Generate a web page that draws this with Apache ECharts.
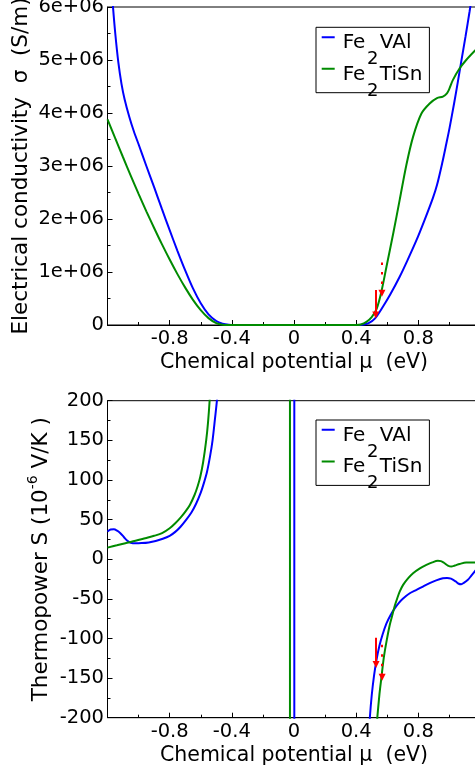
<!DOCTYPE html>
<html><head><meta charset="utf-8">
<script src="https://cdn.jsdelivr.net/npm/echarts@6/dist/echarts.min.js"></script>
<style>html,body{margin:0;padding:0;background:#fff}#c{width:475px;height:775px}</style>
</head><body><div id="c"></div>
<script>
const FONT = 'DejaVu Sans';
const BLUE = '#0000ff', GREEN = '#008b00', RED = '#ff0000';
const names = ['Fe2VAl', 'Fe2TiSn'];
const sigmaTickLabels = ['0','1e+06','2e+06','3e+06','4e+06','5e+06','6e+06'];

// Electrical conductivity sigma (S/m) vs chemical potential (eV)
const muSigmaVAl = [-1.2,-1.18,-1.166,-1.15,-1.13,-1.11,-1.09,-1.06,-1.03,-1.0,-0.95,-0.90,-0.85,-0.80,-0.75,-0.70,-0.65,-0.60,-0.55,-0.50,-0.46,-0.42,-0.38,0.0,0.40,0.44,0.48,0.52,0.573,0.62,0.68,0.73,0.788,0.84,0.894,0.92,0.954,0.98,1.001,1.03,1.055,1.076,1.104,1.13,1.16,1.2];
const sigmaVAl = [7.4e6,6.6e6,6.05e6,5.5e6,4.95e6,4.55e6,4.26e6,3.93e6,3.65e6,3.41e6,3.00e6,2.60e6,2.19e6,1.79e6,1.40e6,1.03e6,0.69e6,0.41e6,0.20e6,0.075e6,0.025e6,0.004e6,0,0,0,0.005e6,0.035e6,0.12e6,0.35e6,0.58e6,0.91e6,1.22e6,1.60e6,1.98e6,2.40e6,2.64e6,3.06e6,3.42e6,3.72e6,4.18e6,4.60e6,4.97e6,5.45e6,5.92e6,6.5e6,7.3e6];
const muSigmaTiSn = [-1.2,-1.15,-1.10,-1.05,-1.0,-0.95,-0.90,-0.85,-0.80,-0.75,-0.70,-0.65,-0.60,-0.55,-0.50,-0.46,-0.42,0.0,0.40,0.43,0.466,0.50,0.531,0.56,0.595,0.64,0.68,0.723,0.766,0.82,0.873,0.92,0.958,0.984,1.0,1.022,1.065,1.108,1.162,1.2];
const sigmaTiSn = [3.88e6,3.52e6,3.165e6,2.815e6,2.475e6,2.145e6,1.83e6,1.525e6,1.235e6,0.96e6,0.705e6,0.475e6,0.28e6,0.13e6,0.035e6,0.005e6,0,0,0,0.01e6,0.06e6,0.15e6,0.30e6,0.60e6,1.10e6,1.75e6,2.36e6,3.02e6,3.55e6,3.99e6,4.18e6,4.28e6,4.31e6,4.37e6,4.46e6,4.62e6,4.84e6,5.00e6,5.17e6,5.28e6];

// Thermopower S (1e-6 V/K) vs chemical potential (eV)
const muSVAl = [-1.2,-1.18,-1.159,-1.138,-1.117,-1.095,-1.074,-1.05,-1.021,-0.98,-0.935,-0.89,-0.849,-0.80,-0.764,-0.73,-0.693,-0.66,-0.63,-0.60,-0.58,-0.56,-0.54,-0.524,-0.508,-0.496,-0.485,-0.46,-0.43,-0.2,0.002,0.002,0.002,0.002,0.3,0.44,0.46,0.475,0.488,0.50,0.515,0.531,0.55,0.57,0.595,0.62,0.648,0.675,0.702,0.745,0.788,0.83,0.873,0.915,0.958,0.985,1.01,1.04,1.06,1.076,1.095,1.119,1.14,1.162,1.2];
const sVAl = [34.8,37.5,37.8,36,32.8,28,23.5,20.8,20.0,20.3,21.2,23,25.5,29.5,34.5,41,50,59,70,84,96,110,130,150,178,200,228,310,480,5000,9000,8000,-8000,-9000,-2000,-420,-315,-241,-200,-172,-147,-127,-109,-95,-81,-71,-62,-55,-49.6,-43,-38.7,-34.5,-30.3,-26.8,-24,-23.6,-24.6,-28,-31,-31.5,-29.5,-26,-21,-15.6,-6];
const muSTiSn = [-1.2,-1.14,-1.085,-1.02,-0.957,-0.90,-0.849,-0.80,-0.764,-0.73,-0.699,-0.67,-0.64,-0.62,-0.603,-0.585,-0.565,-0.553,-0.543,-0.53,-0.51,-0.495,-0.2,-0.026,-0.026,-0.026,-0.026,0.3,0.49,0.515,0.525,0.536,0.55,0.562,0.578,0.595,0.616,0.632,0.648,0.665,0.68,0.702,0.735,0.766,0.81,0.852,0.89,0.926,0.945,0.965,0.99,1.012,1.035,1.066,1.108,1.2];
const sTiSn = [14.6,17.5,20.2,23.2,26.5,29.5,32.8,39,45.4,52.5,60,68.5,81,92,104,122,150,173,200,245,390,700,5000,9000,8000,-8000,-9000,-2200,-450,-263,-230,-200,-170,-150,-124,-104,-83,-71,-59,-49,-41,-32.4,-24,-17.7,-11.5,-7.2,-4,-2.1,-2.4,-4.5,-8,-9.3,-8,-6,-4.3,-4.3];

// Red arrows [start, end] in data coordinates
const arrowSigmaSolid = [[0.526, 0.66e6], [0.526, 0.19e6]];
const arrowSigmaDotted = [[0.566, 1.18e6], [0.566, 0.60e6]];
const arrowSSolid = [[0.528, -99], [0.528, -133]];
const arrowSDotted = [[0.567, -108], [0.567, -149]];

function pairs(xs, ys) { return xs.map((x, i) => [x, ys[i]]); }

const tickStyle = {color: '#000', width: 1};
function xAxisCfg(gi) {
  return {
    gridIndex: gi, type: 'value', min: -1.2, max: 1.2, interval: 0.4,
    name: 'Chemical potential μ  (eV)', nameLocation: 'middle', nameGap: 27.5, nameMoveOverlap: false,
    nameTextStyle: {fontFamily: FONT, fontSize: 20.5, color: '#000'},
    axisLine: {show: true, onZero: false, lineStyle: tickStyle},
    axisTick: {show: true, inside: true, length: 5, lineStyle: tickStyle},
    minorTick: {show: true, splitNumber: 2, length: 3, lineStyle: tickStyle},
    splitLine: {show: false},
    axisLabel: {fontFamily: FONT, fontSize: 19.5, color: '#000', margin: 3.8, showMinLabel: false, showMaxLabel: false}
  };
}
function yAxisBase(gi) {
  return {
    gridIndex: gi, type: 'value', nameLocation: 'middle', nameMoveOverlap: false,
    axisLine: {show: true, onZero: false, lineStyle: tickStyle},
    axisTick: {show: true, inside: true, length: 5, lineStyle: tickStyle},
    minorTick: {show: true, splitNumber: 2, length: 3, lineStyle: tickStyle},
    splitLine: {show: false},
    axisLabel: {fontFamily: FONT, fontSize: 19.5, color: '#000', margin: 3.5}
  };
}
const yTop = Object.assign(yAxisBase(0), {
  min: 0, max: 6e6, interval: 1e6,
  name: 'Electrical conductivity  σ  (S/m)', nameGap: 75,
  nameTextStyle: {fontFamily: FONT, fontSize: 21.5, color: '#000'}
});
yTop.axisLabel.formatter = v => sigmaTickLabels[Math.round(v / 1e6)];
const yBot = Object.assign(yAxisBase(1), {
  min: -200, max: 200, interval: 50,
  name: '{m|Thermopower S (10}{p|-6}{m| V/K )}', nameGap: 55.5,
  nameTextStyle: {fontFamily: FONT, fontSize: 21.5, color: '#000', rich: {
    m: {fontFamily: FONT, fontSize: 21.5, lineHeight: 22, verticalAlign: 'bottom', color: '#000'},
    p: {fontFamily: FONT, fontSize: 14, lineHeight: 16, padding: [0, 0, 16, 0], color: '#000'}
  }}
});

function legendCfg(top) {
  return {
    data: names, orient: 'vertical', left: 316, top: top,
    icon: 'path://M0 0H0.01V0.01H0Z M0 3.25H13V5.25H0Z M16 20H16.01V20.01H16Z',
    itemWidth: 16, itemHeight: 20, itemGap: -3.9,
    padding: [5.6, 7, -7.3, 5.7],
    borderColor: '#000', borderWidth: 1, backgroundColor: '#fff', borderRadius: 0,
    selectedMode: false,
    itemStyle: {borderWidth: 0},
    formatter: n => '{m|Fe}{s|2}{m|' + n.slice(3) + '}',
    textStyle: {fontFamily: FONT, fontSize: 20, color: '#000', rich: {
      m: {fontFamily: FONT, fontSize: 20, lineHeight: 20, verticalAlign: 'top', color: '#000'},
      s: {fontFamily: FONT, fontSize: 18, lineHeight: 18, verticalAlign: 'top', padding: [17.5, 1.5, 0, 1.5], color: '#000'}
    }}
  };
}

function curve(name, gi, xs, ys, color) {
  return {
    name: name, type: 'line', xAxisIndex: gi, yAxisIndex: gi, data: pairs(xs, ys),
    showSymbol: false, symbol: 'none', smooth: 0.3, silent: true, clip: true,
    lineStyle: {color: color, width: 2}, itemStyle: {color: color}
  };
}
function arrow(gi, a, dotted) {
  return {
    name: 'arrow', type: 'line', xAxisIndex: gi, yAxisIndex: gi, data: [], silent: true, z: 5,
    markLine: {
      silent: true, animation: false, symbol: ['none', 'triangle'], symbolSize: 7,
      label: {show: false},
      lineStyle: {color: RED, width: 2, type: dotted ? [2.5, 7] : 'solid', cap: 'butt'},
      itemStyle: {color: RED},
      data: [[{coord: a[0]}, {coord: a[1]}]]
    }
  };
}

const chart = echarts.init(document.getElementById('c'), null, {renderer: 'canvas'});
chart.setOption({
  animation: false,
  backgroundColor: '#fff',
  grid: [
    {left: 107.5, right: -5.5, top: 7, bottom: 450, show: true, borderColor: '#000', borderWidth: 1, backgroundColor: 'transparent', outerBoundsMode: 'none', containLabel: false},
    {left: 107.5, right: -5.5, top: 400.7, bottom: 57.3, show: true, borderColor: '#000', borderWidth: 1, backgroundColor: 'transparent', outerBoundsMode: 'none', containLabel: false}
  ],
  xAxis: [xAxisCfg(0), xAxisCfg(1)],
  yAxis: [yTop, yBot],
  legend: [legendCfg(27.3), legendCfg(420)],
  series: [
    curve(names[0], 0, muSigmaVAl, sigmaVAl, BLUE),
    curve(names[1], 0, muSigmaTiSn, sigmaTiSn, GREEN),
    curve(names[0], 1, muSVAl, sVAl, BLUE),
    curve(names[1], 1, muSTiSn, sTiSn, GREEN),
    arrow(0, arrowSigmaSolid, false),
    arrow(0, arrowSigmaDotted, true),
    arrow(1, arrowSSolid, false),
    arrow(1, arrowSDotted, true)
  ]
});
</script>
</body></html>
